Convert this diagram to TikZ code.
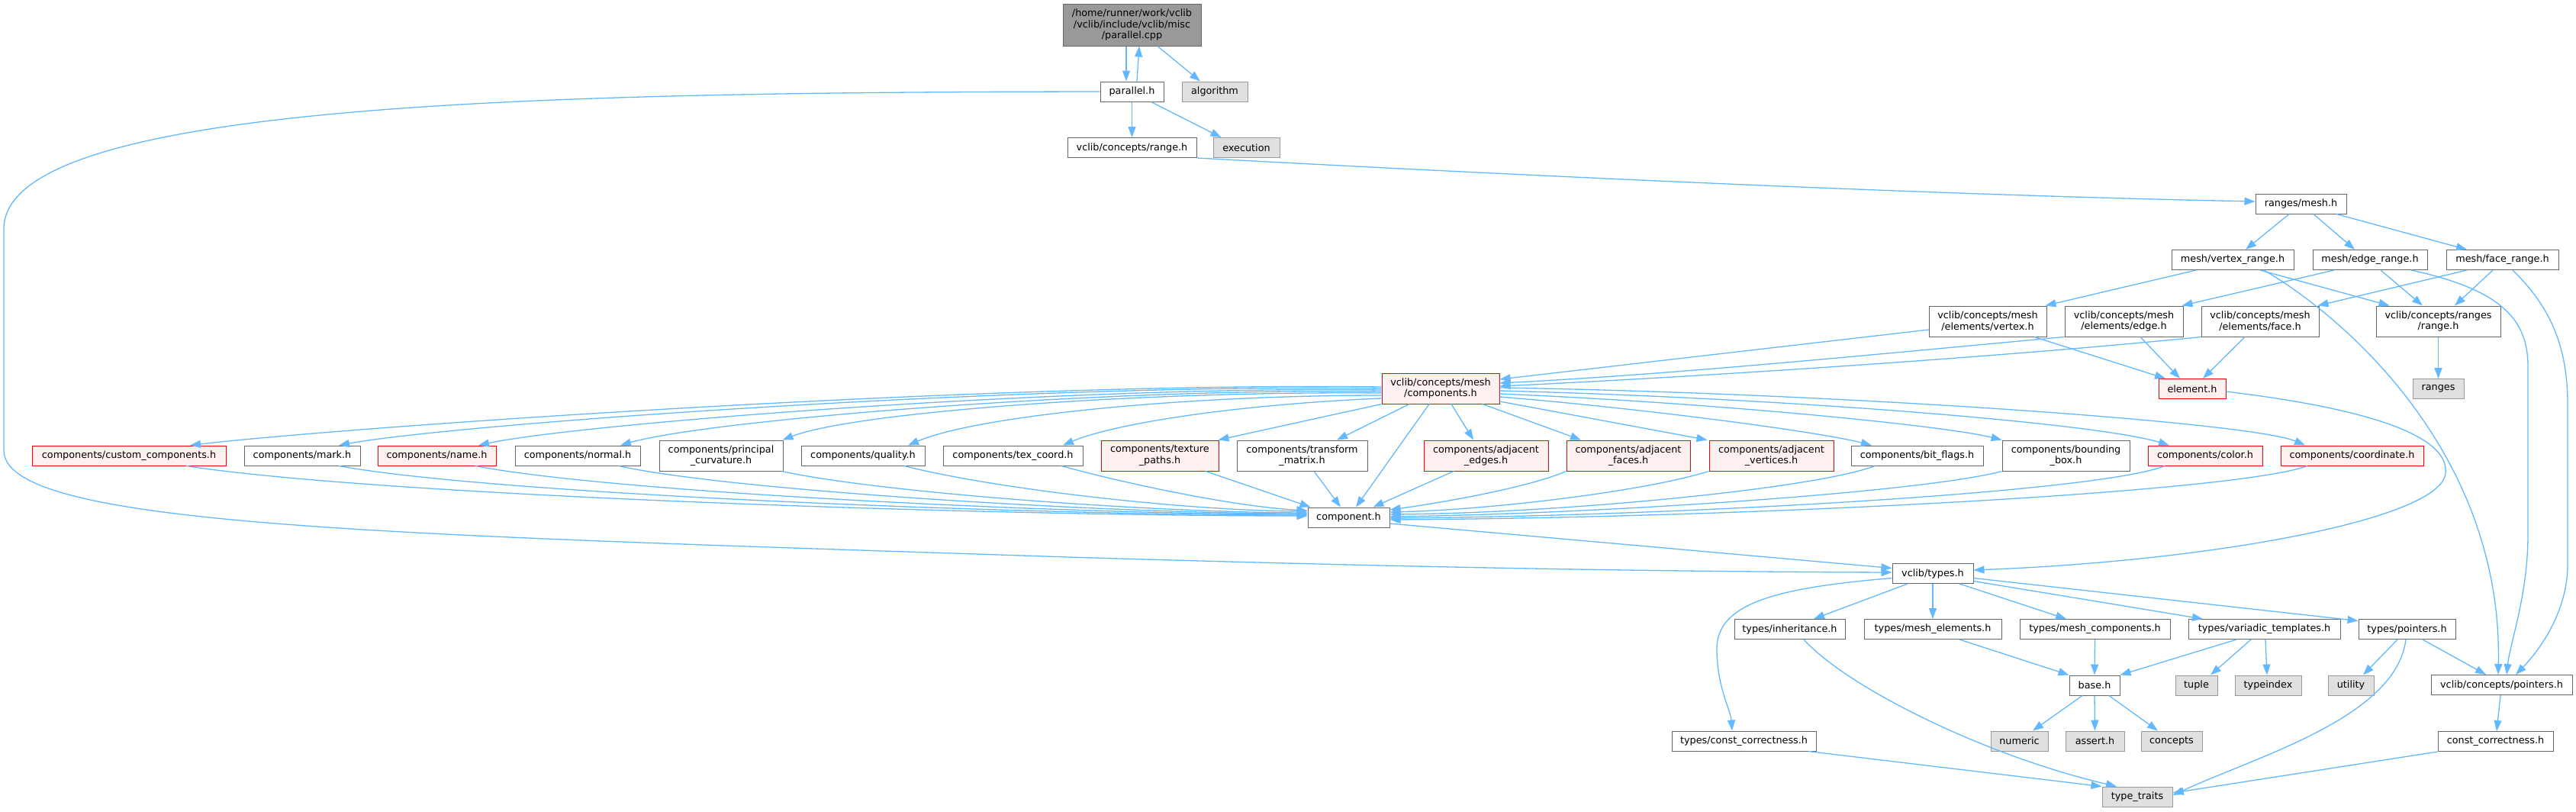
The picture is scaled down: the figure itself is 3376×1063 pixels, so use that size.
\documentclass[tikz,border=0pt]{standalone}
\usepackage{fontspec}
\setmainfont{DejaVu Sans}
\usetikzlibrary{arrows.meta}
\definecolor{edgec}{HTML}{63B8FF}
\definecolor{nbord}{HTML}{666666}
\definecolor{extfill}{HTML}{E0E0E0}
\definecolor{extbord}{HTML}{999999}
\definecolor{redfill}{HTML}{FFF0F0}
\definecolor{redbord}{HTML}{FF0000}
\definecolor{rootfill}{HTML}{999999}
\begin{document}
\begin{tikzpicture}[x=1pt,y=-1pt,
  box/.style={draw=nbord,fill=white,line width=1pt,rectangle,inner sep=0pt,minimum height=26pt,align=center,
    font=\fontsize{12.8pt}{14.6pt}\selectfont,text=black},
  ext/.style={box,draw=extbord,fill=extfill},
  trunc/.style={box,draw=redbord,fill=redfill},
  twoline/.style={minimum height=40pt},
  rootbox/.style={box,fill=rootfill,draw=nbord,minimum height=55pt},
  e/.style={draw=edgec,line width=1.3pt,-{Triangle[length=14pt,width=10pt]}}]
\useasboundingbox (0,0) rectangle (3376,1063);
% nodes
\node[rootbox,minimum width=181pt] (root) at (1483.5,32.5) {/home/runner/work/vclib\\/vclib/include/vclib/misc\\/parallel.cpp};
\node[box,minimum width=83pt] (par) at (1483.5,120) {parallel.h};
\node[ext,minimum width=86pt] (alg) at (1592,120) {algorithm};
\node[box,minimum width=169pt] (crange) at (1483.5,193.5) {vclib/concepts/range.h};
\node[ext,minimum width=87pt] (exe) at (1633.5,193.5) {execution};
\node[box,minimum width=119pt] (rmesh) at (3015.5,267) {ranges/mesh.h};
\node[box,minimum width=160pt] (vrange) at (2926,340.5) {mesh/vertex\_range.h};
\node[box,minimum width=150pt] (erange) at (3106,340.5) {mesh/edge\_range.h};
\node[box,minimum width=147pt] (frange) at (3279.5,340.5) {mesh/face\_range.h};
\node[box,twoline,minimum width=154pt] (evtx) at (2605,421) {vclib/concepts/mesh\\/elements/vertex.h};
\node[box,twoline,minimum width=155pt] (eedge) at (2783.5,421) {vclib/concepts/mesh\\/elements/edge.h};
\node[box,twoline,minimum width=154pt] (eface) at (2962,421) {vclib/concepts/mesh\\/elements/face.h};
\node[box,twoline,minimum width=163pt] (rrange) at (3195.5,421) {vclib/concepts/ranges\\/range.h};
\node[ext,minimum width=67pt] (ranges) at (3195.5,509.5) {ranges};
\node[trunc,minimum width=88pt] (elem) at (2873,509.5) {element.h};
\node[trunc,twoline,minimum width=154pt] (comps) at (1888,509) {vclib/concepts/mesh\\/components.h};
\node[trunc,minimum width=254pt] (ccust) at (169,597) {components/custom\_components.h};
\node[box,minimum width=152pt] (cmark) at (396,597) {components/mark.h};
\node[trunc,minimum width=155pt] (cname) at (572.5,597) {components/name.h};
\node[box,minimum width=164pt] (cnorm) at (757,597) {components/normal.h};
\node[box,twoline,minimum width=162pt] (cprin) at (945,597) {components/principal\\\_curvature.h};
\node[box,minimum width=162pt] (cqual) at (1131,597) {components/quality.h};
\node[box,minimum width=183pt] (ctex) at (1327.5,597) {components/tex\_coord.h};
\node[trunc,twoline,minimum width=154pt] (ctexp) at (1520,597) {components/texture\\\_paths.h};
\node[box,twoline,minimum width=171pt] (ctrans) at (1706.5,597) {components/transform\\\_matrix.h};
\node[trunc,twoline,minimum width=163pt] (cadje) at (1947.5,597) {components/adjacent\\\_edges.h};
\node[trunc,twoline,minimum width=162pt] (cadjf) at (2134,597) {components/adjacent\\\_faces.h};
\node[trunc,twoline,minimum width=163pt] (cadjv) at (2321.5,597) {components/adjacent\\\_vertices.h};
\node[box,minimum width=173pt] (cbit) at (2512.5,597) {components/bit\_flags.h};
\node[box,twoline,minimum width=167pt] (cbbox) at (2707.5,597) {components/bounding\\\_box.h};
\node[trunc,minimum width=150pt] (ccol) at (2890,597) {components/color.h};
\node[trunc,minimum width=187pt] (ccoord) at (3082.5,597) {components/coordinate.h};
\node[box,minimum width=107pt] (comp) at (1767.5,678) {component.h};
\node[box,minimum width=106pt] (types) at (2533,751.5) {vclib/types.h};
\node[box,minimum width=145pt] (tinh) at (2345.5,824.5) {types/inheritance.h};
\node[box,minimum width=180pt] (tmel) at (2533,824.5) {types/mesh\_elements.h};
\node[box,minimum width=197pt] (tmco) at (2745.5,824.5) {types/mesh\_components.h};
\node[box,minimum width=199pt] (tvar) at (2967.5,824.5) {types/variadic\_templates.h};
\node[box,minimum width=127pt] (tptr) at (3154.5,824.5) {types/pointers.h};
\node[box,minimum width=66pt] (base) at (2745,898) {base.h};
\node[ext,minimum width=55pt] (tuple) at (2878.5,898) {tuple};
\node[ext,minimum width=87pt] (typeindex) at (2972.5,898) {typeindex};
\node[ext,minimum width=60pt] (utility) at (3081,898) {utility};
\node[box,minimum width=185pt] (cptr) at (3278.5,897.5) {vclib/concepts/pointers.h};
\node[box,minimum width=189pt] (tcc) at (2285.5,971) {types/const\_correctness.h};
\node[ext,minimum width=75pt] (numeric) at (2646.5,971) {numeric};
\node[ext,minimum width=77pt] (assert) at (2745.5,971) {assert.h};
\node[ext,minimum width=80pt] (concepts) at (2846,971) {concepts};
\node[box,minimum width=151pt] (cc) at (3270.5,971.5) {const\_correctness.h};
\node[ext,minimum width=92pt] (tt) at (2801,1044) {type\_traits};
% edges top
\draw[e] ([xshift=-7.5pt]root.south) -- ([xshift=-7.5pt]par.north);
\draw[e] ([xshift=6.5pt]par.north) -- ([xshift=9.5pt]root.south);
\draw[e] ([xshift=33.5pt]root.south) -- ([xshift=-19pt]alg.north);
\draw[e] (par.south) -- (crange.north);
\draw[e] ([xshift=25pt]par.south) -- ([xshift=-33pt]exe.north);
\draw[e] (par.west) .. controls (700,121) and (5,135) .. (5,300) -- (5,590) .. controls (5,690) and (500,700) .. (1400,730) .. controls (1900,745) and (2200,749) .. ([yshift=1.5pt]types.west);
\draw[e] (crange.south east) .. controls (1900,225) and (2500,255) .. ([yshift=3pt]rmesh.west);
\draw[e] ([xshift=-15.5pt]rmesh.south) -- ([xshift=17pt]vrange.north);
\draw[e] ([xshift=16.5pt]rmesh.south) -- ([xshift=-20pt]erange.north);
\draw[e] ([xshift=46.5pt]rmesh.south) -- ([xshift=-46.5pt]frange.north);
% ranges
\draw[e] ([xshift=-48pt]vrange.south) -- ([xshift=-2pt]evtx.north east);
\draw[e] ([xshift=36pt]vrange.south) -- ([xshift=-64pt]rrange.north);
\draw[e] ([xshift=41pt]vrange.south) .. controls (3080,420) and (3280,600) .. ([xshift=-4.5pt]cptr.north);
\draw[e] ([xshift=-47pt]erange.south) -- ([xshift=-2pt]eedge.north east);
\draw[e] ([xshift=14pt]erange.south) -- ([xshift=-20.5pt]rrange.north);
\draw[e] ([xshift=54pt]erange.south) .. controls (3280,380) and (3313,420) .. (3313,480) -- (3313,700) .. controls (3313,780) and (3290,840) .. ([xshift=6.5pt]cptr.north);
\draw[e] ([xshift=-46.5pt]frange.south) -- ([xshift=-2pt]eface.north east);
\draw[e] ([xshift=-12.5pt]frange.south) -- ([xshift=21.5pt]rrange.north);
\draw[e] ([xshift=13.5pt]frange.south) .. controls (3340,400) and (3365,450) .. (3365,530) -- (3365,740) .. controls (3365,800) and (3330,850) .. ([xshift=18.5pt]cptr.north);
% elements
\draw[e] ([yshift=-11pt]evtx.west) -- ([yshift=12pt]comps.east);
\draw[e] (eedge.south west) .. controls (2450,465) and (2200,490) .. ([yshift=7pt]comps.east);
\draw[e] (eface.south west) .. controls (2600,470) and (2200,495) .. ([yshift=3pt]comps.east);
\draw[e] ([xshift=61pt]evtx.south) -- ([xshift=-35pt]elem.north);
\draw[e] ([xshift=21.5pt]eedge.south) -- ([xshift=-16pt]elem.north);
\draw[e] ([xshift=-20pt]eface.south) -- ([xshift=14pt]elem.north);
\draw[e] (rrange.south) -- (ranges.north);
\draw[e] ([yshift=-3.5pt]elem.east) .. controls (3100,535) and (3210,570) .. (3205,620) .. controls (3200,680) and (2900,735) .. ([yshift=4.5pt]types.east);
% components.h -> children
\draw[e] ([yshift=2pt]comps.west) .. controls (1300,500) and (450,560) .. ([xshift=80pt]ccust.north);
\draw[e] ([yshift=0pt]comps.west) .. controls (1350,502) and (600,555) .. ([xshift=48pt]cmark.north);
\draw[e] ([yshift=-2pt]comps.west) .. controls (1400,505) and (760,555) .. ([xshift=54.5pt]cname.north);
\draw[e] ([yshift=-4pt]comps.west) .. controls (1450,508) and (930,550) .. ([xshift=56pt]cnorm.north);
\draw[e] ([yshift=-6pt]comps.west) .. controls (1500,512) and (1120,540) .. ([xshift=-1pt]cprin.north east);
\draw[e] ([yshift=-9pt]comps.west) .. controls (1550,518) and (1280,545) .. ([xshift=59pt]cqual.north);
\draw[e] ([yshift=-13pt]comps.west) .. controls (1620,530) and (1460,555) .. ([xshift=65.5pt]ctex.north);
\draw[e] (comps.south west) -- ([xshift=-1pt]ctexp.north east);
\draw[e] ([xshift=-41pt]comps.south) -- ([xshift=45.5pt]ctrans.north);
\draw[e] ([xshift=-15pt]comps.south) -- ([xshift=9.5pt]comp.north);
\draw[e] ([xshift=14pt]comps.south) -- ([xshift=-16.5pt]cadje.north);
\draw[e] ([xshift=55pt]comps.south) -- ([xshift=-62pt]cadjf.north);
\draw[e] ([yshift=-17pt]comps.east) -- ([xshift=-2pt]cadjv.north west);
\draw[e] ([yshift=-11pt]comps.east) .. controls (2150,535) and (2380,565) .. ([xshift=-59.5pt]cbit.north);
\draw[e] ([yshift=-7pt]comps.east) .. controls (2250,528) and (2550,558) .. (cbbox.north west);
\draw[e] ([yshift=-3pt]comps.east) .. controls (2350,522) and (2750,555) .. ([xshift=-47pt]ccol.north);
\draw[e] ([yshift=1pt]comps.east) .. controls (2400,515) and (2950,553) .. ([xshift=-61.5pt]ccoord.north);
% children -> component.h
\draw[e] ([xshift=75pt]ccust.south) .. controls (500,650) and (1300,676) .. ([yshift=2pt]comp.west);
\draw[e] ([xshift=48pt]cmark.south) .. controls (650,648) and (1350,675) .. ([yshift=3pt]comp.west);
\draw[e] ([xshift=50.5pt]cname.south) .. controls (800,645) and (1400,674) .. ([yshift=4pt]comp.west);
\draw[e] ([xshift=54pt]cnorm.south) .. controls (950,642) and (1450,673) .. ([yshift=5pt]comp.west);
\draw[e] ([xshift=-2pt]cprin.south east) .. controls (1150,645) and (1500,671) .. ([yshift=6pt]comp.west);
\draw[e] ([xshift=54pt]cqual.south) .. controls (1300,640) and (1550,669) .. ([yshift=8pt]comp.west);
\draw[e] ([xshift=63.5pt]ctex.south) .. controls (1480,635) and (1620,664) .. ([yshift=9pt]comp.west);
\draw[e] ([xshift=60pt]ctexp.south) -- ([xshift=4pt]comp.north west);
\draw[e] ([xshift=15.5pt]ctrans.south) -- ([xshift=-10.5pt]comp.north);
\draw[e] ([xshift=-42.5pt]cadje.south) -- ([xshift=32pt]comp.north);
\draw[e] (cadjf.south west) .. controls (2000,640) and (1880,660) .. ([yshift=10pt]comp.east);
\draw[e] (cadjv.south west) .. controls (2150,645) and (1950,668) .. ([yshift=7pt]comp.east);
\draw[e] ([xshift=-55.5pt]cbit.south) .. controls (2380,640) and (2050,672) .. ([yshift=4pt]comp.east);
\draw[e] (cbbox.south west) .. controls (2520,645) and (2100,673) .. ([yshift=1pt]comp.east);
\draw[e] ([xshift=-53pt]ccol.south) .. controls (2750,645) and (2200,676) .. ([yshift=-1pt]comp.east);
\draw[e] ([xshift=-58.5pt]ccoord.south) .. controls (2930,645) and (2300,678) .. ([yshift=-3pt]comp.east);
\draw[e] ([yshift=-8pt]comp.east) -- ([yshift=7pt]types.west);
% types
\draw[e] ([yshift=-6pt]types.west) .. controls (2330,770) and (2250,790) .. (2250,850) .. controls (2250,900) and (2268,930) .. ([xshift=-15.5pt]tcc.north);
\draw[e] ([xshift=-33pt]types.south) -- ([xshift=31.5pt]tinh.north);
\draw[e] (types.south) -- (tmel.north);
\draw[e] ([xshift=35pt]types.south) -- ([xshift=-37.5pt]tmco.north);
\draw[e] ([yshift=-10pt]types.east) -- ([xshift=-80.5pt]tvar.north);
\draw[e] ([yshift=-6pt]types.east) -- ([yshift=11pt]tptr.west);
\draw[e] ([xshift=18.5pt]tinh.south) .. controls (2420,900) and (2600,990) .. ([xshift=-27pt]tt.north);
\draw[e] ([xshift=35pt]tmel.south) -- (base.north west);
\draw[e] (tmco.south) -- (base.north);
\draw[e] ([xshift=-36.5pt]tvar.south) -- (base.north east);
\draw[e] ([xshift=-17.5pt]tvar.south) -- ([xshift=18.5pt]tuple.north);
\draw[e] ([xshift=1.5pt]tvar.south) -- ([xshift=-1.5pt]typeindex.north);
\draw[e] ([xshift=-12.5pt]tptr.south) -- ([xshift=16pt]utility.north);
\draw[e] ([xshift=20.5pt]tptr.south) -- ([xshift=-20.5pt]cptr.north);
\draw[e] ([xshift=-1.5pt]tptr.south) .. controls (3140,940) and (2960,990) .. ([yshift=2pt]tt.east);
\draw[e] ([xshift=-16pt]base.south) -- ([xshift=17.5pt]numeric.north);
\draw[e] (base.south) -- (assert.north);
\draw[e] ([xshift=19pt]base.south) -- ([xshift=-18pt]concepts.north);
\draw[e] ([xshift=-1.5pt]cptr.south) -- ([xshift=1.5pt]cc.north);
\draw[e] (cc.south west) -- ([yshift=5pt]tt.east);
\draw[e] ([xshift=84.5pt]tcc.south) -- (tt.north west);
\end{tikzpicture}
\end{document}
